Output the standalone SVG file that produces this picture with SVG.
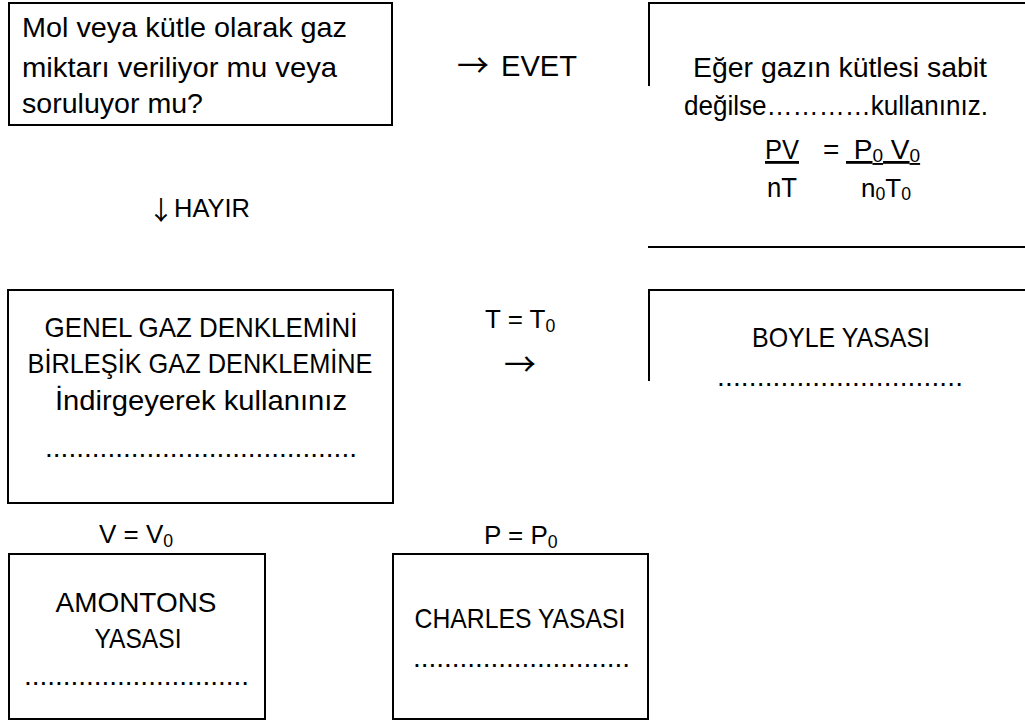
<svg xmlns="http://www.w3.org/2000/svg" width="1025" height="722" viewBox="0 0 1025 722">
<style>
.b{fill:none;stroke:#000;stroke-width:2}
text{font-family:"Liberation Sans",Arial,sans-serif;fill:#000;font-size:28px}
.c{text-anchor:middle}
.s{font-size:68%}
.l{font-size:26px}
.ar{font-family:"Noto Sans CJK SC","DejaVu Sans",sans-serif}
</style>
<rect width="1025" height="722" fill="#fff"/>
<g id="node-soru">
<rect class="b" x="9" y="3" width="383" height="122"/>
<text x="22" y="37" textLength="325" lengthAdjust="spacingAndGlyphs">Mol veya kütle olarak gaz</text>
<text x="22" y="77" textLength="315" lengthAdjust="spacingAndGlyphs">miktarı veriliyor mu veya</text>
<text x="22" y="113" textLength="181" lengthAdjust="spacingAndGlyphs">soruluyor mu?</text>
</g>
<g id="node-evet-sonuc">
<path class="b" d="M1026,3 H649 V86"/>
<path class="b" d="M648,247 H1026"/>
<text class="c" x="840" y="77" textLength="294" lengthAdjust="spacingAndGlyphs">Eğer gazın kütlesi sabit</text>
<text class="c" x="836" y="115" textLength="304" lengthAdjust="spacingAndGlyphs">değilse…………kullanınız.</text>
<text x="765" y="159" text-decoration="underline" textLength="34" lengthAdjust="spacingAndGlyphs">PV</text>
<text x="823" y="159">=</text>
<text x="846" y="159" text-decoration="underline" xml:space="preserve"> P<tspan class="s" dy="3">0</tspan><tspan dy="-3"> V</tspan><tspan class="s" dy="3">0</tspan></text>
<text x="767" y="197" textLength="30" lengthAdjust="spacingAndGlyphs">nT</text>
<text class="l" x="861" y="197">n<tspan class="s" dy="3">0</tspan><tspan dy="-3">T</tspan><tspan class="s" dy="3">0</tspan></text>
</g>
<g id="node-genel">
<rect class="b" x="8" y="290" width="385" height="213"/>
<text class="c" x="201" y="337" textLength="313" lengthAdjust="spacingAndGlyphs">GENEL GAZ DENKLEMİNİ</text>
<text class="c" x="200" y="373" textLength="345" lengthAdjust="spacingAndGlyphs">BİRLEŞİK GAZ DENKLEMİNE</text>
<text class="c" x="201" y="410" textLength="292" lengthAdjust="spacingAndGlyphs">İndirgeyerek kullanınız</text>
<text x="45" y="457" textLength="312">........................................</text>
</g>
<g id="node-boyle">
<path class="b" d="M1026,290 H649 V381"/>
<text class="c" x="841" y="347" textLength="178" lengthAdjust="spacingAndGlyphs">BOYLE YASASI</text>
<text x="717" y="386" textLength="246">...............................</text>
</g>
<g id="node-amontons">
<rect class="b" x="9" y="554" width="256" height="165"/>
<text class="c" x="136" y="612" textLength="161" lengthAdjust="spacingAndGlyphs">AMONTONS</text>
<text class="c" x="138" y="648" textLength="87" lengthAdjust="spacingAndGlyphs">YASASI</text>
<text x="24" y="685" textLength="225">.............................</text>
</g>
<g id="node-charles">
<rect class="b" x="393" y="554" width="255" height="165"/>
<text class="c" x="520" y="628" textLength="211" lengthAdjust="spacingAndGlyphs">CHARLES YASASI</text>
<text x="413" y="667" textLength="217">............................</text>
</g>
<g id="connectors">
<text class="ar" x="457" y="77" style="font-size:32px">→</text>
<text x="501" y="76" style="font-size:29px" textLength="76" lengthAdjust="spacingAndGlyphs">EVET</text>
<text class="ar" x="148" y="220" style="font-size:26px">↓</text>
<text x="174" y="217" style="font-size:25px" textLength="76" lengthAdjust="spacingAndGlyphs">HAYIR</text>
<text class="l" x="485" y="328">T = T<tspan class="s" dy="4">0</tspan></text>
<text class="ar c" x="520" y="376" style="font-size:32px">→</text>
<text class="l" x="99" y="543">V = V<tspan class="s" dy="4">0</tspan></text>
<text class="l" x="484" y="544">P = P<tspan class="s" dy="4">0</tspan></text>
</g>
</svg>
